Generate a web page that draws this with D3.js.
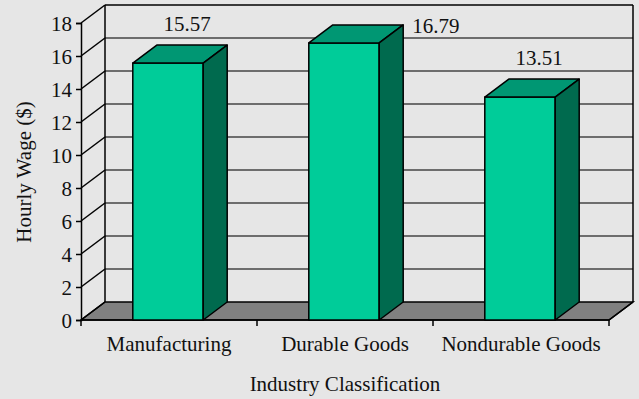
<!DOCTYPE html>
<html>
<head>
<meta charset="utf-8">
<script src="https://cdn.jsdelivr.net/npm/d3@7/dist/d3.min.js"></script>
<style>
  html, body { margin: 0; padding: 0; background: #e6e6e6; }
  svg { display: block; }
  text { font-family: "Liberation Serif", "DejaVu Serif", serif; fill: #111; }
</style>
</head>
<body>
<svg id="chart" width="639" height="399"></svg>
<script>
// Average hourly wage by industry classification
const categories = ["Manufacturing", "Durable Goods", "Nondurable Goods"];
const wages = [15.57, 16.79, 13.51];
const yTicks = [0, 2, 4, 6, 8, 10, 12, 14, 16, 18];

const W = 639, H = 399;
const FS = 21;
const svg = d3.select("#chart");

svg.append("rect").attr("width", W).attr("height", H).attr("fill", "#e6e6e6");

// 3D depth offset of the plot box
const DX = 24, DY = -18;

const x = d3.scaleBand().domain(categories).range([81, 609]).padding(0);
const y = d3.scaleLinear().domain([0, 18]).range([320, 23]);

const x0 = x.range()[0], x1 = x.range()[1];
const yBase = y(0), yTop = y(18);

// floor
svg.append("polygon")
  .attr("points", [[x0, yBase], [x1, yBase], [x1 + DX, yBase + DY], [x0 + DX, yBase + DY]].map(p => p.join(",")).join(" "))
  .attr("fill", "#808080").attr("stroke", "#000").attr("stroke-width", 1.5);

// back wall gridlines
svg.append("g").selectAll("line").data(yTicks.filter(t => t > 0)).join("line")
  .attr("x1", x0 + DX).attr("x2", x1 + DX)
  .attr("y1", d => y(d) + DY).attr("y2", d => y(d) + DY)
  .attr("stroke", d => d === 18 ? "#000" : "#444").attr("stroke-width", 1.6);

// back wall vertical edges
[x0 + DX, x1 + DX].forEach(xx => {
  svg.append("line").attr("x1", xx).attr("x2", xx)
    .attr("y1", yTop + DY).attr("y2", yBase + DY)
    .attr("stroke", "#000").attr("stroke-width", 1.5);
});

// side wall diagonals
svg.append("g").selectAll("line").data(yTicks).join("line")
  .attr("x1", x0).attr("y1", d => y(d))
  .attr("x2", x0 + DX).attr("y2", d => y(d) + DY)
  .attr("stroke", "#000").attr("stroke-width", 1.5);

// value axis
const yAxis = svg.append("g").attr("transform", `translate(${x0},0)`)
  .call(d3.axisLeft(y).tickValues(yTicks).tickSize(5).tickPadding(4).tickFormat(d3.format("d")));
yAxis.attr("font-family", null).attr("font-size", null);
yAxis.select(".domain").attr("stroke", "#000").attr("stroke-width", 1.5);
yAxis.selectAll(".tick line").attr("stroke", "#000").attr("stroke-width", 1.5);
yAxis.selectAll(".tick text").attr("font-size", FS).attr("fill", "#111").attr("dy", "0.34em");

// category axis
const xAxis = svg.append("g").attr("transform", `translate(0,${yBase})`)
  .call(d3.axisBottom(x).tickSize(0).tickPadding(16));
xAxis.attr("font-family", null).attr("font-size", null);
xAxis.select(".domain").remove();
xAxis.selectAll(".tick text").attr("font-size", FS).attr("fill", "#111");
svg.append("line").attr("x1", x0).attr("x2", x1).attr("y1", yBase).attr("y2", yBase)
  .attr("stroke", "#000").attr("stroke-width", 1.5);
svg.append("line").attr("x1", x1).attr("x2", x1 + DX).attr("y1", yBase).attr("y2", yBase + DY)
  .attr("stroke", "#000").attr("stroke-width", 1.5);
const bounds = categories.map(c => x(c)).concat([x1]);
svg.append("g").selectAll("line").data(bounds).join("line")
  .attr("x1", d => d).attr("x2", d => d).attr("y1", yBase).attr("y2", yBase + 6)
  .attr("stroke", "#000").attr("stroke-width", 1.5);

// bars
const barW = x.bandwidth() * 0.4;
const bars = svg.append("g").selectAll("g").data(categories.map((c, i) => ({ c, v: wages[i] }))).join("g");
const bx0 = d => x(d.c) + (x.bandwidth() - barW) / 2 - 1;
const bx1 = d => bx0(d) + barW;
const pts = arr => arr.map(p => p.join(",")).join(" ");

bars.append("polygon") // front
  .attr("points", d => pts([[bx0(d), y(d.v)], [bx1(d), y(d.v)], [bx1(d), yBase], [bx0(d), yBase]]))
  .attr("fill", "#00cc99").attr("stroke", "#000").attr("stroke-width", 1.5).attr("stroke-linejoin", "round");
bars.append("polygon") // top
  .attr("points", d => pts([[bx0(d), y(d.v)], [bx1(d), y(d.v)], [bx1(d) + DX, y(d.v) + DY], [bx0(d) + DX, y(d.v) + DY]]))
  .attr("fill", "#009773").attr("stroke", "#000").attr("stroke-width", 1.5).attr("stroke-linejoin", "round");
bars.append("polygon") // side
  .attr("points", d => pts([[bx1(d), y(d.v)], [bx1(d) + DX, y(d.v) + DY], [bx1(d) + DX, yBase + DY], [bx1(d), yBase]]))
  .attr("fill", "#006a4e").attr("stroke", "#000").attr("stroke-width", 1.5).attr("stroke-linejoin", "round");

// value labels: above the bar, or beside it when there is no room above
bars.append("text")
  .each(function (d) {
    const t = d3.select(this);
    const cx = (bx0(d) + bx1(d)) / 2;
    const above = y(d.v) - 32;
    if (above - 15 < 0) {
      t.attr("x", bx1(d) + DX + 9).attr("y", y(d.v) - 10).attr("text-anchor", "start");
    } else {
      t.attr("x", cx + 19).attr("y", above).attr("text-anchor", "middle");
    }
  })
  .attr("font-size", FS)
  .text(d => d.v.toFixed(2));

// axis titles
svg.append("text").attr("x", (x0 + x1) / 2).attr("y", 391)
  .attr("text-anchor", "middle").attr("font-size", FS).text("Industry Classification");
svg.append("text").attr("transform", "translate(31,172) rotate(-90)")
  .attr("text-anchor", "middle").attr("font-size", FS).text("Hourly Wage ($)");
</script>
</body>
</html>
